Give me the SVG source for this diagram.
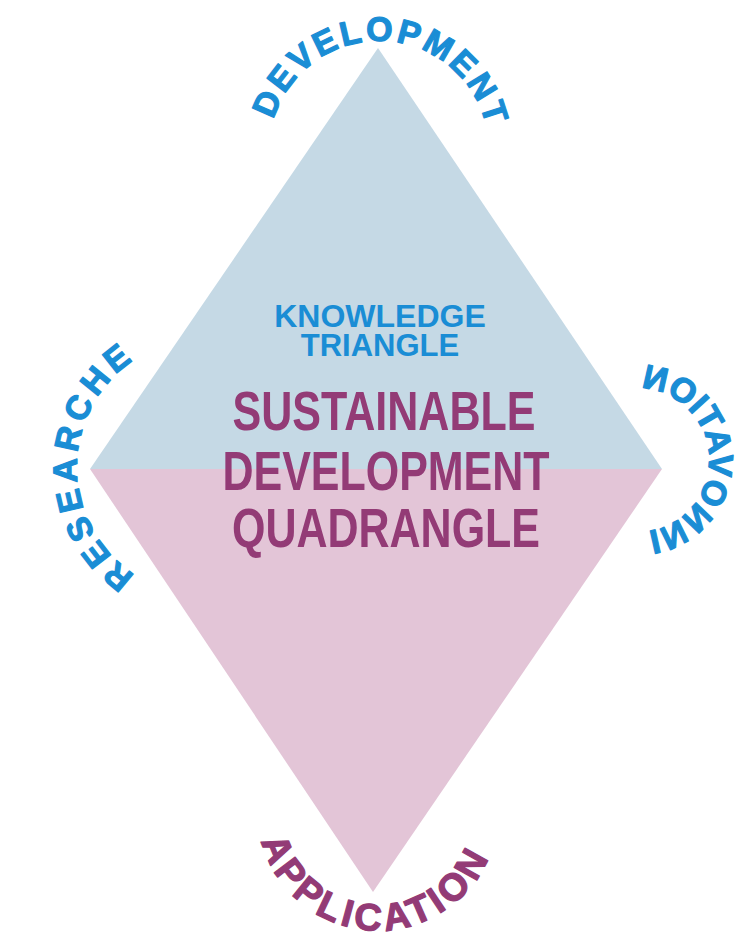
<svg xmlns="http://www.w3.org/2000/svg" width="741" height="942" viewBox="0 0 741 942">
<style>
.arc{font-family:"Liberation Sans",Arial,sans-serif;font-weight:bold;stroke-width:1.2;stroke-linejoin:round;}
.blue{fill:#1a8dd5;}
.arc.blue{stroke:#1a8dd5;}
.purple{fill:#933b76;}
.arc.purple{stroke:#933b76;}
.center{font-family:"Liberation Sans",Arial,sans-serif;font-weight:bold;text-anchor:middle;}
</style>
<defs>
<path id="p-dev" d="M 281.61 202.13 A 110 110 0 1 1 471.98 209.78" fill="none"/>
<path id="p-res" d="M 269.52 579.28 A 129 129 0 1 1 271.47 355.85" fill="none"/>
<path id="p-inn" d="M 669.69 524.15 A 72 72 0 1 1 676.21 399.62" fill="none"/>
<path id="p-app" d="M 277.20 743.79 A 120.6 120.6 0 1 0 485.74 755.81" fill="none"/>
</defs>
<rect width="741" height="942" fill="#ffffff"/>
<g id="upper-triangle">
<polygon points="378,48 90,469 662,469" fill="#c5d9e5"/>
</g>
<g id="lower-triangle">
<polygon points="90,469 662,469 373,892" fill="#e3c5d7"/>
</g>
<g id="connectors"></g>
<g id="label-development">
<text class="arc blue" font-size="34" letter-spacing="2.9"><textPath href="#p-dev" startOffset="50%" text-anchor="middle">DEVELOPMENT</textPath></text>
</g>
<g id="label-researche">
<text class="arc blue" font-size="34" letter-spacing="4.9"><textPath href="#p-res" startOffset="50%" text-anchor="middle">RESEARCHE</textPath></text>
</g>
<g id="label-innovation" transform="matrix(-1 0 0 1 1274 0)">
<text class="arc blue" font-size="34" letter-spacing="0.3"><textPath href="#p-inn" startOffset="50%" text-anchor="middle">INNOVATION</textPath></text>
</g>
<g id="label-application">
<text class="arc purple" font-size="38" letter-spacing="4.3"><textPath href="#p-app" startOffset="50%" text-anchor="middle">APPLICATION</textPath></text>
</g>
<g id="knowledge-triangle">
<text class="center blue" font-size="32" x="380" y="327">KNOWLEDGE</text>
<text class="center blue" font-size="31" x="380" y="356">TRIANGLE</text>
</g>
<g id="sustainable-development-quadrangle">
<text class="center purple" font-size="56" x="384" y="430" textLength="303" lengthAdjust="spacingAndGlyphs">SUSTAINABLE</text>
<text class="center purple" font-size="56" x="386" y="490" textLength="327" lengthAdjust="spacingAndGlyphs">DEVELOPMENT</text>
<text class="center purple" font-size="56" x="386" y="547" textLength="308" lengthAdjust="spacingAndGlyphs">QUADRANGLE</text>
</g>
</svg>
